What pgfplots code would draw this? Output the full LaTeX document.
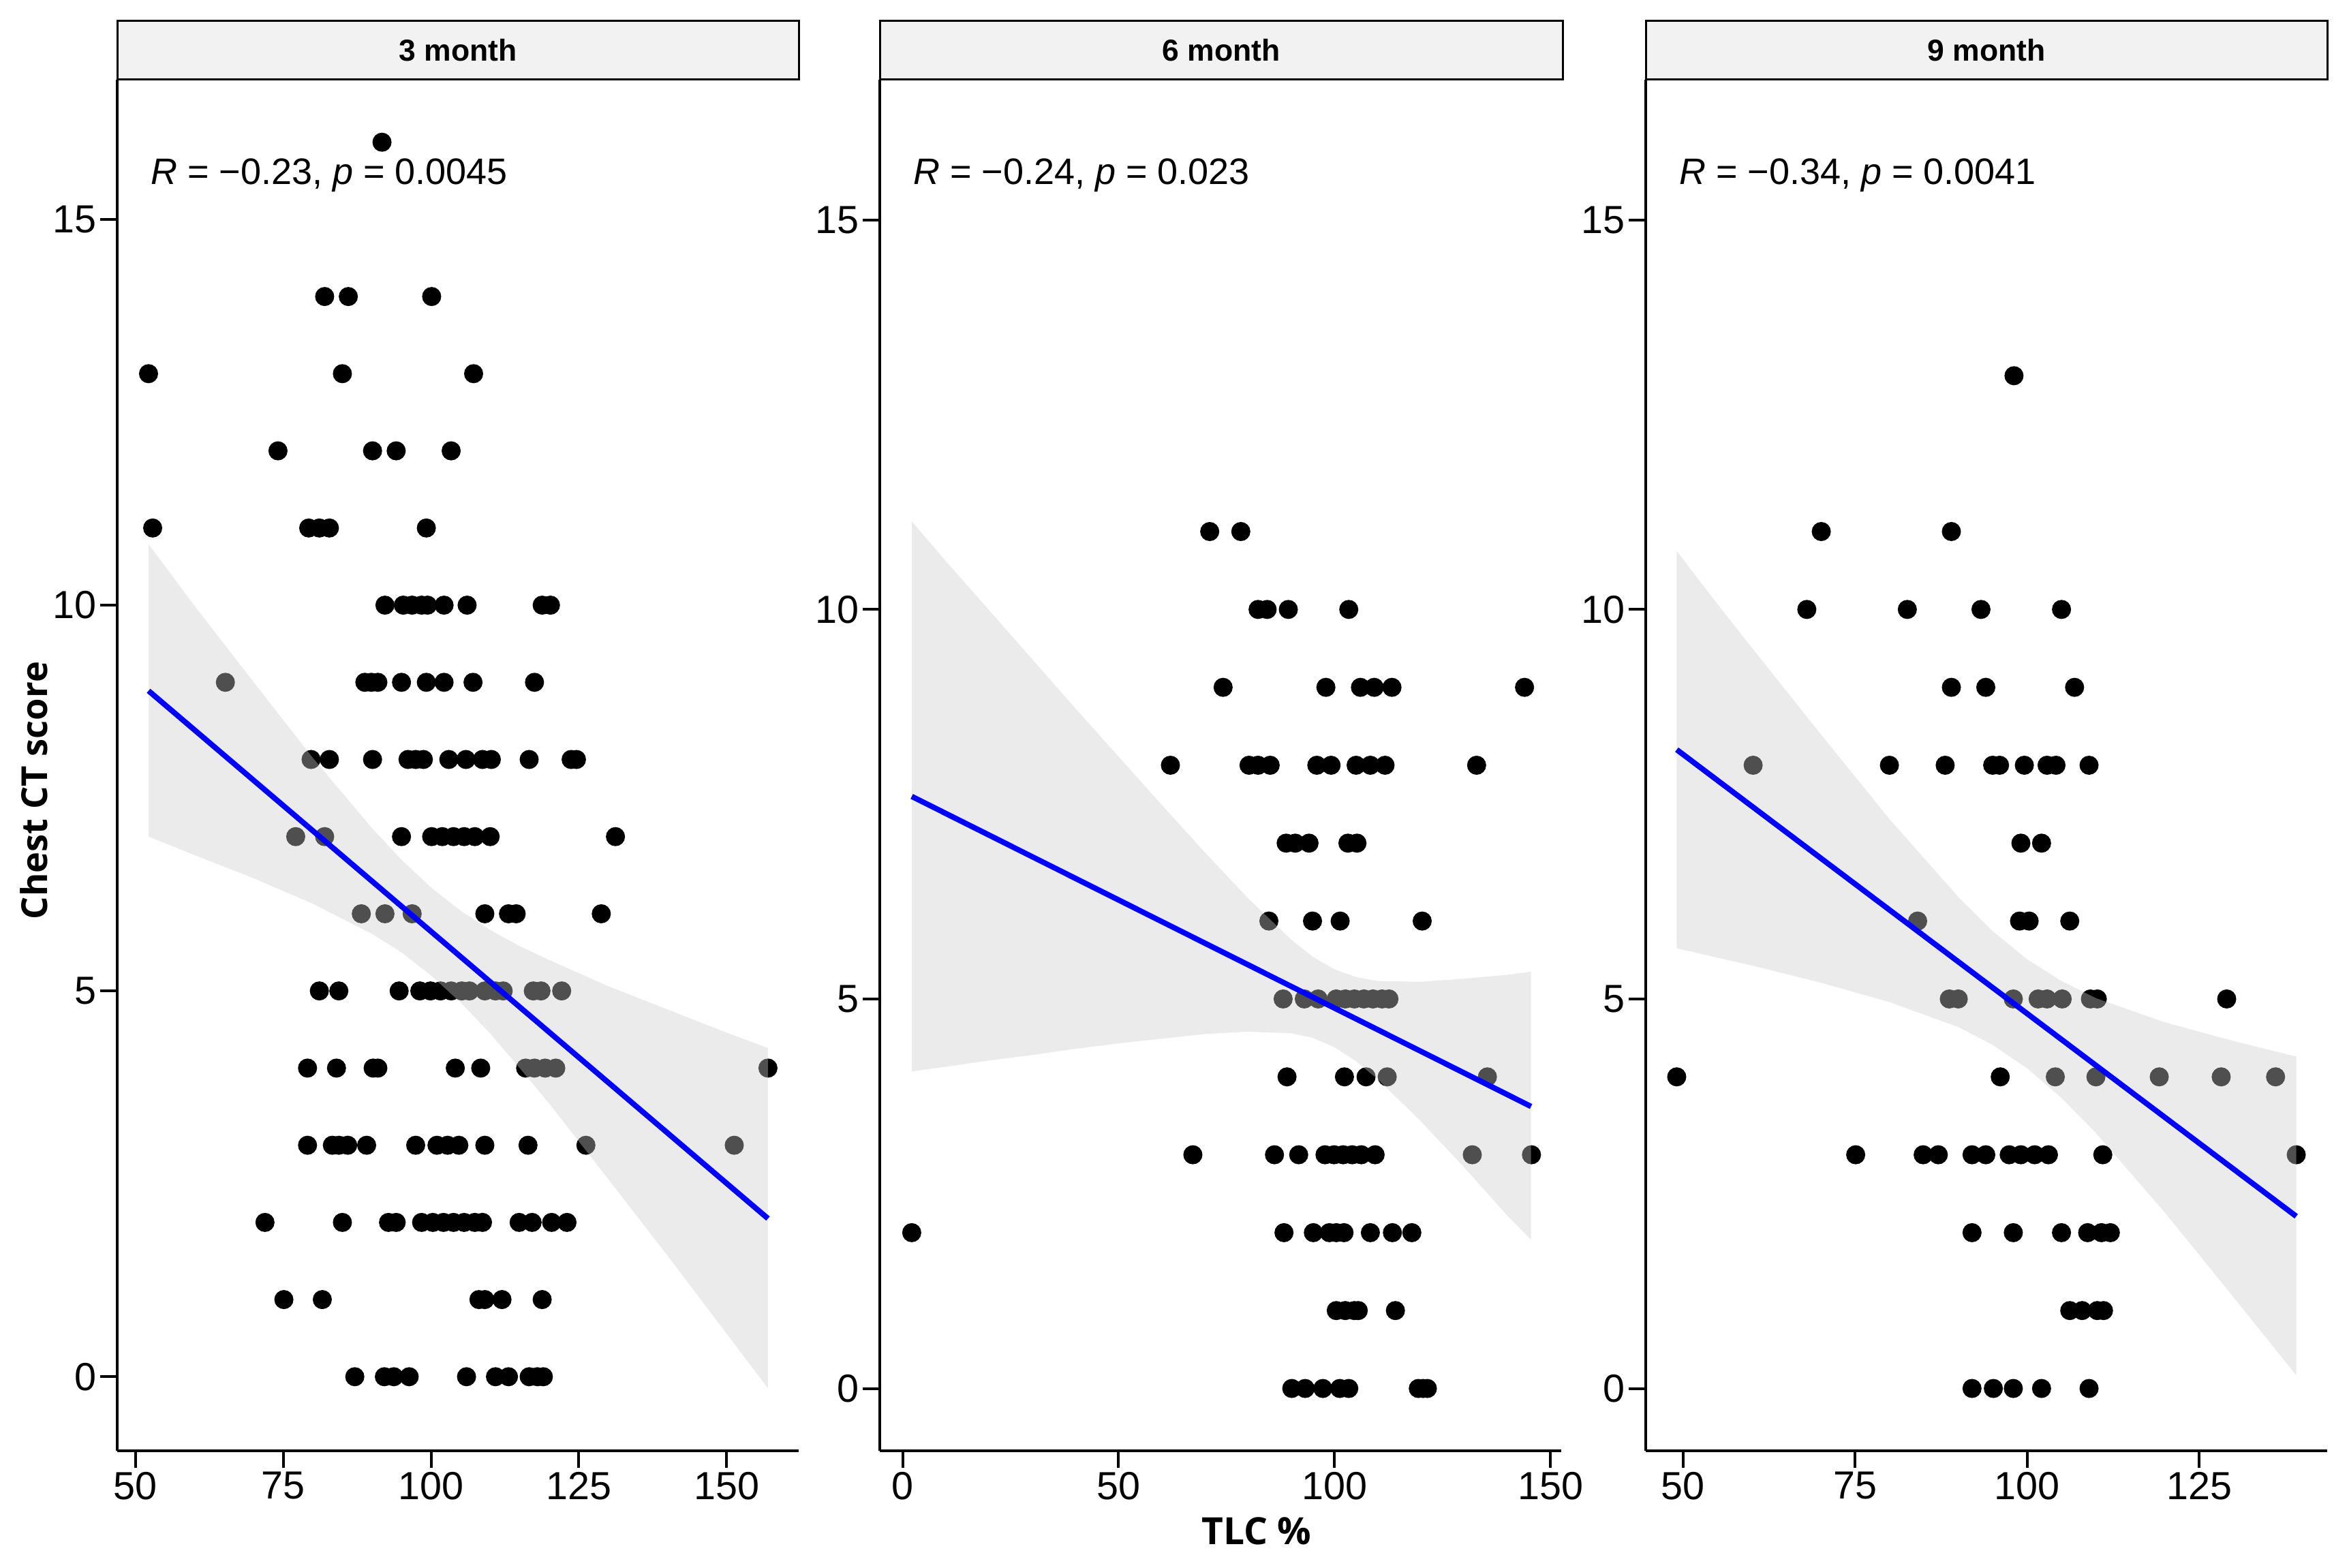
\documentclass[border=0pt]{standalone}
\usepackage{fontspec}
\setmainfont{Liberation Sans}
\newfontfamily\labfont{Open Sans}
\usepackage{pgfplots}
\pgfplotsset{compat=1.18}
\usepackage{pgfplotstable}
\definecolor{stripgray}{HTML}{F2F2F2}
\definecolor{ribbongray}{gray}{0.8}

\pgfplotstableread{
x y
91.7 16
82.0 14
86.0 14
100.1 14
52.2 13
85.0 13
107.2 13
74.1 12
90.1 12
94.1 12
103.4 12
52.9 11
79.3 11
81.1 11
82.8 11
99.2 11
92.2 10
95.3 10
96.8 10
98.4 10
99.4 10
102.2 10
106.1 10
118.8 10
120.2 10
65.2 9
88.8 9
89.9 9
91.0 9
95.0 9
99.2 9
102.2 9
107.1 9
117.5 9
79.7 8
82.8 8
90.1 8
96.1 8
97.4 8
98.7 8
103.0 8
105.9 8
108.7 8
110.2 8
116.6 8
123.7 8
124.6 8
77.1 7
82.0 7
95.0 7
100.1 7
101.9 7
103.8 7
105.6 7
107.4 7
110.0 7
131.2 7
88.2 6
92.2 6
96.8 6
109.1 6
113.1 6
114.4 6
128.8 6
81.1 5
84.4 5
94.6 5
98.1 5
99.9 5
101.6 5
103.4 5
105.2 5
106.5 5
109.1 5
110.9 5
112.2 5
117.3 5
118.6 5
122.1 5
79.1 4
84.0 4
90.2 4
91.0 4
104.1 4
108.4 4
116.0 4
117.5 4
119.3 4
121.1 4
157.0 4
79.1 3
83.3 3
84.4 3
85.9 3
89.1 3
97.4 3
101.0 3
102.8 3
104.7 3
109.1 3
116.4 3
126.2 3
151.3 3
71.9 2
85.0 2
92.8 2
94.1 2
98.4 2
100.3 2
102.1 2
103.8 2
105.6 2
107.4 2
108.7 2
114.9 2
117.1 2
120.4 2
123.0 2
75.1 1
81.6 1
108.1 1
109.1 1
112.0 1
118.8 1
87.1 0
92.1 0
93.7 0
96.3 0
106.0 0
110.9 0
113.1 0
116.6 0
118.0 0
119.0 0
}\dataA

\pgfplotstableread{
x y
71.1 11
78.3 11
82.3 10
84.4 10
89.3 10
103.3 10
74.2 9
98.0 9
106.0 9
109.2 9
113.3 9
144.0 9
62.0 8
80.2 8
82.3 8
85.1 8
95.9 8
99.2 8
105.0 8
108.3 8
111.7 8
132.9 8
88.8 7
90.9 7
94.1 7
103.1 7
105.2 7
84.8 6
94.9 6
101.3 6
120.3 6
88.1 5
93.0 5
96.2 5
100.4 5
102.5 5
104.6 5
106.8 5
108.9 5
111.0 5
112.6 5
89.0 4
102.3 4
107.3 4
112.2 4
135.4 4
67.2 3
86.1 3
91.7 3
97.8 3
99.9 3
102.0 3
104.1 3
106.2 3
109.4 3
131.9 3
145.6 3
2.1 2
88.3 2
95.1 2
98.8 2
100.4 2
102.2 2
108.3 2
113.4 2
117.9 2
100.4 1
102.5 1
104.6 1
105.5 1
114.1 1
90.1 0
93.2 0
97.3 0
101.2 0
103.3 0
119.4 0
120.5 0
121.5 0
}\dataB

\pgfplotstableread{
x y
98.1 13
70.1 11
89.0 11
68.0 10
82.6 10
93.3 10
105.0 10
89.0 9
94.0 9
106.9 9
60.2 8
80.0 8
88.1 8
95.0 8
96.0 8
99.6 8
102.9 8
104.2 8
109.0 8
99.1 7
102.1 7
84.1 6
98.9 6
100.3 6
106.2 6
88.7 5
90.0 5
98.0 5
101.6 5
102.9 5
105.1 5
109.2 5
110.2 5
129.0 5
49.1 4
96.1 4
104.1 4
110.0 4
119.2 4
128.2 4
136.1 4
75.1 3
84.9 3
87.1 3
92.0 3
94.0 3
97.4 3
99.1 3
101.1 3
103.1 3
111.0 3
139.1 3
92.0 2
98.0 2
105.0 2
108.8 2
110.8 2
112.1 2
106.2 1
108.0 1
110.2 1
111.1 1
92.0 0
95.1 0
98.0 0
102.1 0
109.0 0
}\dataC

\pgfplotsset{
  panel/.style={
    scale only axis, width=200pt, height=402.4pt, anchor=south west,
    axis x line*=bottom, axis y line*=left,
    axis line style={line width=0.8pt, -},
    tick align=outside, major tick length=5pt,
    tick style={line width=0.8pt, black},
    tick label style={font=\fontsize{11.5}{13}\selectfont, inner sep=1pt, text=black},
    /pgf/number format/assume math mode=true,
    ytick={0,5,10,15},
    minor tick num=0,
    clip marker paths=true,
  },
  pts/.style={only marks, mark=*, mark size=2.6pt, mark options={fill=black, draw=none}},
  rib/.style={draw=none, fill=ribbongray, fill opacity=0.39},
  fitline/.style={draw=blue, line width=1.6pt},
}
\tikzset{rtext/.style={anchor=base west, inner sep=0pt, font=\fontsize{10.8}{12}\selectfont}}

\begin{document}
\begin{tikzpicture}
\useasboundingbox (0,0) rectangle (689.4pt,460pt);

% ---------- 3 month ----------
\begin{axis}[panel, at={(34.4pt,34.2pt)},
  xmin=46.9, xmax=162.2, ymin=-0.96, ymax=16.81,
  xtick={50,75,100,125,150}]
\addplot[pts] table[x=x,y=y] {\dataA};
\addplot[rib] coordinates {
 (52.2,10.79) (60,9.99) (70,9.00) (80,8.02) (90,7.11) (95,6.70) (100,6.34) (105,6.04)
 (110,5.79) (115,5.58) (120,5.40) (130,5.06) (140,4.76) (150,4.46) (157,4.26)
 (157,-0.15) (150,0.56) (140,1.57) (130,2.56) (120,3.54) (115,4.00) (110,4.45)
 (105,4.85) (100,5.20) (95,5.50) (90,5.74) (80,6.13) (70,6.46) (60,6.76) (52.2,7.00)
} -- cycle;
\addplot[fitline] coordinates {(52.2,8.89) (157,2.05)};
\node[rtext] at ([xshift=9.6pt,yshift=-30.8pt]rel axis cs:0,1) {\textit{R} = −0.23, \textit{p} = 0.0045};
\end{axis}

% ---------- 6 month ----------
\begin{axis}[panel, at={(258.2pt,34.2pt)},
  xmin=-5.3, xmax=152.5, ymin=-0.8, ymax=16.8,
  xtick={0,50,100,150}]
\addplot[pts] table[x=x,y=y] {\dataB};
\addplot[rib] coordinates {
 (2.1,11.13) (10,10.62) (20,9.99) (30,9.36) (40,8.73) (50,8.11) (60,7.49) (70,6.88)
 (80,6.29) (90,5.76) (95,5.54) (100,5.38) (105,5.28) (110,5.23) (120,5.22) (130,5.26)
 (140,5.31) (145.5,5.35)
 (145.5,1.91) (140,2.22) (130,2.84) (120,3.43) (110,3.97) (105,4.20) (100,4.38) (95,4.50)
 (90,4.56) (80,4.58) (70,4.55) (60,4.49) (50,4.43) (40,4.36) (30,4.28) (20,4.21) (10,4.13) (2.1,4.07)
} -- cycle;
\addplot[fitline] coordinates {(2.1,7.60) (145.5,3.62)};
\node[rtext] at ([xshift=9.6pt,yshift=-30.8pt]rel axis cs:0,1) {\textit{R} = −0.24, \textit{p} = 0.023};
\end{axis}

% ---------- 9 month ----------
\begin{axis}[panel, at={(483pt,34.2pt)},
  xmin=44.6, xmax=143.6, ymin=-0.8, ymax=16.8,
  xtick={50,75,100,125}]
\addplot[pts] table[x=x,y=y] {\dataC};
\addplot[rib] coordinates {
 (49.1,10.75) (55,10.07) (60,9.51) (70,8.40) (80,7.31) (90,6.31) (95,5.87) (100,5.51)
 (105,5.23) (110,5.01) (120,4.70) (130,4.46) (139.1,4.26)
 (139.1,0.17) (130,1.17) (120,2.26) (110,3.28) (105,3.73) (100,4.11) (95,4.41) (90,4.64)
 (80,4.96) (70,5.21) (60,5.43) (55,5.53) (49.1,5.65)
} -- cycle;
\addplot[fitline] coordinates {(49.1,8.20) (139.1,2.21)};
\node[rtext] at ([xshift=9.6pt,yshift=-30.8pt]rel axis cs:0,1) {\textit{R} = −0.34, \textit{p} = 0.0041};
\end{axis}

% ---------- strips ----------
\draw[fill=stripgray, line width=0.6pt] (34.4pt,436.6pt) rectangle (234.4pt,453.8pt);
\node[font=\bfseries\fontsize{8.9}{10}\selectfont] at (134.4pt,445.2pt) {3 month};
\draw[fill=stripgray, line width=0.6pt] (258.2pt,436.6pt) rectangle (458.6pt,453.8pt);
\node[font=\bfseries\fontsize{8.9}{10}\selectfont] at (358.4pt,445.2pt) {6 month};
\draw[fill=stripgray, line width=0.6pt] (483pt,436.6pt) rectangle (683pt,453.8pt);
\node[font=\bfseries\fontsize{8.9}{10}\selectfont] at (583pt,445.2pt) {9 month};

% ---------- axis titles ----------
\node[rotate=90, font=\labfont\bfseries\fontsize{10.5}{13}\selectfont] at (9.9pt,228pt) {Chest CT score};
\node[font=\labfont\bfseries\fontsize{11}{13}\selectfont] at (368.8pt,10.6pt) {TLC \%};
\end{tikzpicture}
\end{document}
